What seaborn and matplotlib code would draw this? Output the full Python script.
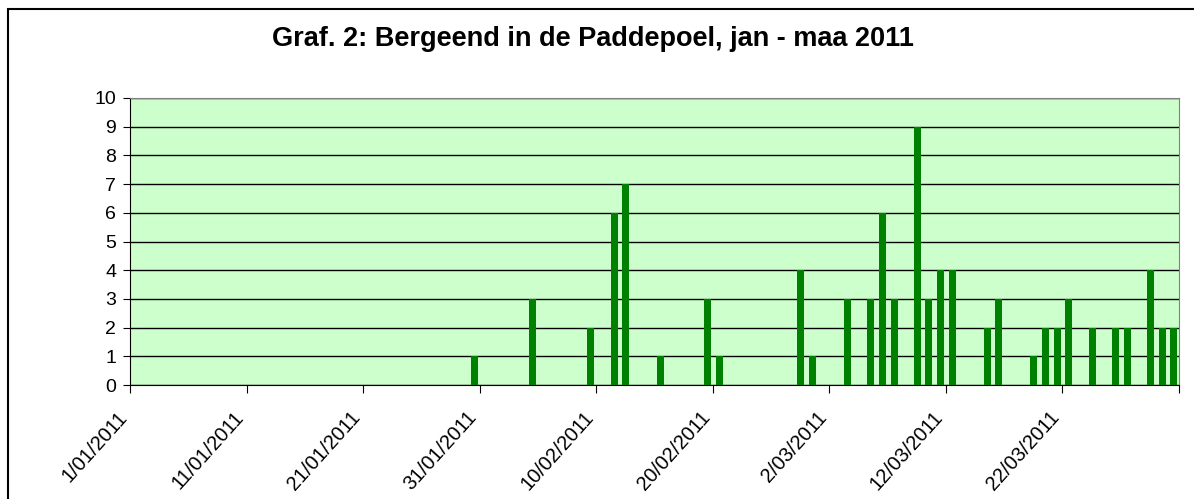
import pandas as pd
import matplotlib.pyplot as plt
import matplotlib.dates as mdates
import matplotlib.transforms as mtransforms
from matplotlib.patches import Rectangle
import seaborn as sns

# tellingen bergeend, Paddepoel
datums = ["2011-01-30", "2011-02-04", "2011-02-09", "2011-02-11", "2011-02-12",
          "2011-02-15", "2011-02-19", "2011-02-20", "2011-02-27", "2011-02-28",
          "2011-03-03", "2011-03-05", "2011-03-06", "2011-03-07", "2011-03-09",
          "2011-03-10", "2011-03-11", "2011-03-12", "2011-03-15", "2011-03-16",
          "2011-03-19", "2011-03-20", "2011-03-21", "2011-03-22", "2011-03-24",
          "2011-03-26", "2011-03-27", "2011-03-29", "2011-03-30", "2011-03-31"]
aantallen = [1, 3, 2, 6, 7,
             1, 3, 1, 4, 1,
             3, 3, 6, 3, 9,
             3, 4, 4, 2, 3,
             1, 2, 2, 3, 2,
             2, 2, 4, 2, 2]
tick_datums = pd.date_range("2011-01-01", "2011-04-01", freq="10D")
tick_labels = ["1/01/2011", "11/01/2011", "21/01/2011", "31/01/2011", "10/02/2011",
               "20/02/2011", "2/03/2011", "12/03/2011", "22/03/2011", ""]

plt.rcParams['font.family'] = ['Liberation Sans', 'DejaVu Sans']

base = pd.DataFrame({"datum": pd.to_datetime(datums), "aantal": aantallen})
# staaf in het midden van de dag
base["x"] = mdates.date2num(base["datum"]) + 0.55

fig = plt.figure(figsize=(11.94, 4.99), dpi=100)
ax = fig.add_axes([130 / 1194, 114 / 499, 1049 / 1194, 287 / 499])
ax.set_facecolor("#CCFFCC")

sns.barplot(data=base, x="x", y="aantal", native_scale=True, width=0.6,
            color="#008000", saturation=1, linewidth=0, ax=ax, zorder=3)

ax.set_xlim(mdates.date2num(pd.Timestamp("2011-01-01")),
            mdates.date2num(pd.Timestamp("2011-04-01")))
ax.set_ylim(0, 10)
ax.set_yticks(range(0, 11))
ax.set_xticks(mdates.date2num(tick_datums))
ax.set_xticklabels(tick_labels, rotation=48, ha="right", va="center",
                   rotation_mode="anchor", fontsize=14.5)
ax.tick_params(axis="y", labelsize=14, length=5, direction="out", pad=5)
ax.tick_params(axis="x", length=6, direction="out", pad=15)
ax.set_xlabel("")
ax.set_ylabel("")

# labels iets naar links schuiven
offset = mtransforms.ScaledTranslation(-6 / 100, 0, fig.dpi_scale_trans)
for lab in ax.get_xticklabels():
    lab.set_transform(lab.get_transform() + offset)

ax.grid(axis="y", color="black", linewidth=1, zorder=1)
ax.set_axisbelow(True)
for s in ["left", "bottom"]:
    ax.spines[s].set_color("black")
for s in ["top", "right"]:
    ax.spines[s].set_color("#808080")

fig.text(593 / 1194, 1 - 39 / 499, "Graf. 2: Bergeend in de Paddepoel, jan - maa 2011",
         ha="center", va="center", fontsize=19.5, fontweight="bold")

fig.add_artist(Rectangle((8 / 1194, -0.1), 1.2, 1.1 - 9 / 499, transform=fig.transFigure,
                         fill=False, edgecolor="black", linewidth=1.5))

fig.savefig("out.png", dpi=100)
